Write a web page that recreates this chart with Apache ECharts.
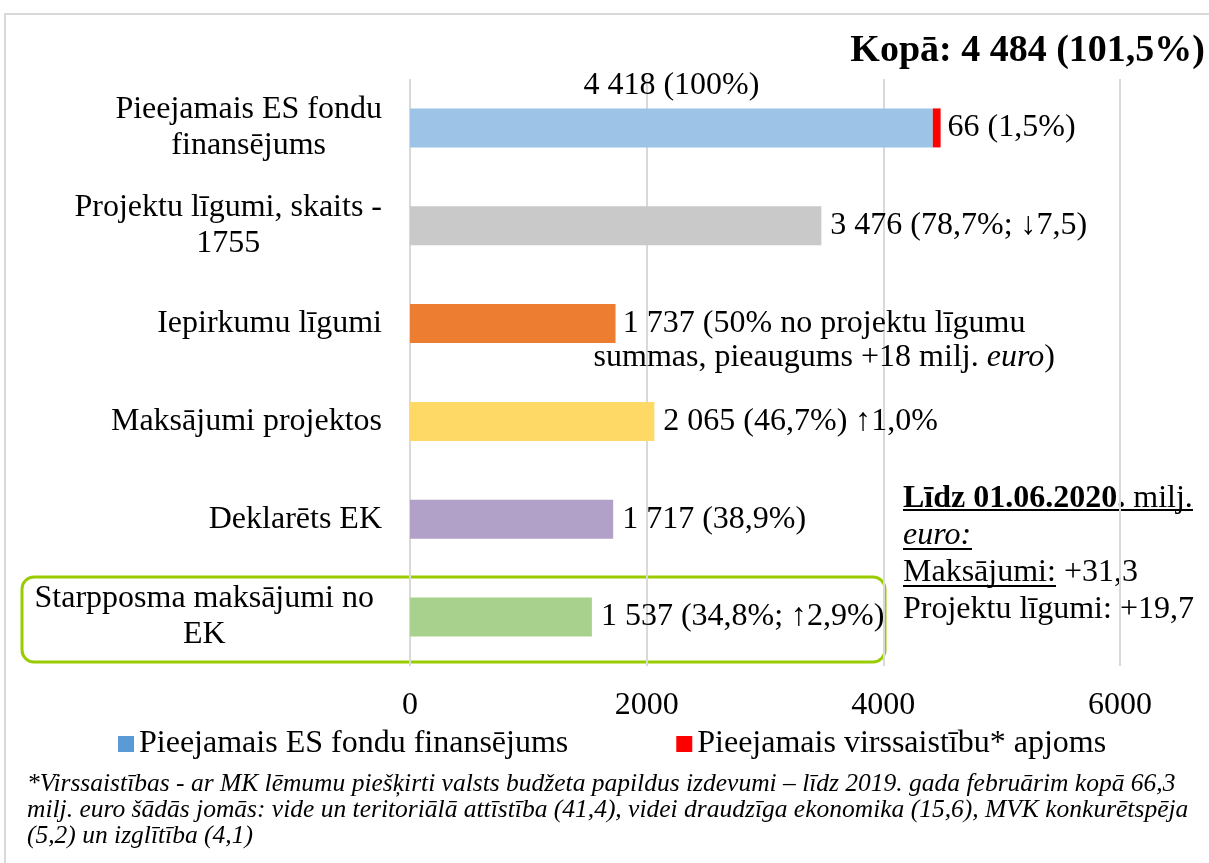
<!DOCTYPE html>
<html>
<head>
<meta charset="utf-8">
<script src="https://cdn.jsdelivr.net/npm/echarts@6/dist/echarts.min.js"></script>
<style>
  html, body { margin: 0; padding: 0; background: #fff; }
  #main { width: 1209px; height: 863px; }
</style>
</head>
<body>
<div id="main"></div>
<script>
// categories, top to bottom
const categories = [
  'Pieejamais ES fondu\nfinansējums',
  'Projektu līgumi, skaits -\n1755',
  'Iepirkumu līgumi',
  'Maksājumi projektos',
  'Deklarēts EK',
  'Starpposma maksājumi no\u00a0\nEK\u00a0'
]
const mainValues = [4418, 3476, 1737, 2065, 1717, 1537]
const extraValues = [66, '-', '-', '-', '-', '-']
const barColors = ['#9DC3E6', '#C9C9C9', '#ED7D31', '#FFD966', '#B1A0C7', '#A9D18E']
const mainLabels = [
  '4 418 (100%)',
  '3 476 (78,7%; ↓7,5)',
  '{n|1 737 (50% no projektu līgumu}\n{n|summas, pieaugums +18 milj. }{i|euro}{n|)}',
  '2 065 (46,7%) ↑1,0%',
  '1 717 (38,9%)',
  '1 537 (34,8%; ↑2,9%)'
]
const extraLabel = '66 (1,5%)'
const xTicks = { min: 0, max: 6000, interval: 2000 }

const FONT = '"Liberation Serif", "Times New Roman", serif'

let chart = echarts.init(document.getElementById('main'))

let mainData = mainValues.map((v, i) => {
  let item = {
    value: v,
    itemStyle: { color: barColors[i] },
    label: { formatter: mainLabels[i] }
  }
  if (i === 0) {
    item.label.position = 'top'
    item.label.distance = 6
  }
  if (i === 2) {
    item.label.offset = [-31, 17]
  }
  return item
})

let option = {
  animation: false,
  textStyle: { fontFamily: FONT },
  grid: { left: 410, right: 89, top: 79, bottom: 197 },
  xAxis: {
    type: 'value',
    min: xTicks.min,
    max: xTicks.max,
    interval: xTicks.interval,
    axisLine: { show: false },
    axisTick: { show: false },
    splitLine: { lineStyle: { color: '#d9d9d9', width: 2 } },
    axisLabel: {
      color: '#000', fontSize: 32, fontFamily: FONT, margin: 24,
      formatter: v => String(v)
    }
  },
  yAxis: {
    type: 'category',
    inverse: true,
    data: categories,
    axisLine: { show: false },
    axisTick: { show: false },
    axisLabel: {
      margin: 28,
      align: 'right',
      formatter: v => v.split('\n').map(l => '{c|' + l + '}').join('\n'),
      rich: {
        c: { align: 'center', fontSize: 32, lineHeight: 36, fontFamily: FONT, color: '#000' }
      }
    }
  },
  legend: {
    left: 113,
    top: 723,
    itemWidth: 16,
    itemHeight: 16,
    itemGap: 108,
    icon: 'rect',
    textStyle: { fontSize: 32, fontFamily: FONT, color: '#000' },
    data: ['Pieejamais ES fondu finansējums', 'Pieejamais virssaistību* apjoms']
  },
  series: [
    {
      name: 'Pieejamais ES fondu finansējums',
      type: 'bar',
      stack: 'total',
      barWidth: 39,
      itemStyle: { color: '#5B9BD5' },
      label: {
        show: true,
        position: 'right',
        distance: 9,
        color: '#000',
        fontSize: 32,
        lineHeight: 34,
        fontFamily: FONT,
        rich: {
          n: { align: 'center', fontSize: 32, lineHeight: 34, fontFamily: FONT, color: '#000' },
          i: { align: 'center', fontStyle: 'italic', fontSize: 32, lineHeight: 34, fontFamily: FONT, color: '#000' }
        }
      },
      data: mainData
    },
    {
      name: 'Pieejamais virssaistību* apjoms',
      type: 'bar',
      stack: 'total',
      barWidth: 39,
      itemStyle: { color: '#FF0000' },
      label: {
        show: true,
        position: 'right',
        distance: 7,
        color: '#000',
        fontSize: 32,
        fontFamily: FONT,
        formatter: extraLabel
      },
      data: extraValues
    }
  ],
  graphic: [
    {
      type: 'rect',
      silent: true,
      shape: { x: 5, y: 14, width: 1230, height: 900 },
      style: { fill: 'none', stroke: '#d9d9d9', lineWidth: 2 }
    },
    {
      type: 'rect',
      silent: true,
      shape: { x: 22, y: 577, width: 863, height: 85, r: 12 },
      style: { fill: 'none', stroke: '#99CC00', lineWidth: 3 }
    },
    {
      type: 'text',
      right: 4,
      top: 32,
      style: { text: 'Kopā: 4 484 (101,5%)', font: 'bold 38px ' + FONT, fill: '#000' }
    },
    {
      type: 'text',
      left: 903,
      top: 480,
      style: {
        text: '{b|Līdz 01.06.2020.} milj.\n{i|euro:}\nMaksājumi: +31,3\nProjektu līgumi: +19,7',
        font: '32px ' + FONT,
        lineHeight: 37,
        fill: '#000',
        rich: {
          b: { fontWeight: 'bold', fontSize: 32, fontFamily: FONT, lineHeight: 37 },
          i: { fontStyle: 'italic', fontSize: 32, fontFamily: FONT, lineHeight: 37 }
        }
      }
    },
    { type: 'line', silent: true, shape: { x1: 903, y1: 510, x2: 1193, y2: 510 }, style: { stroke: '#000', lineWidth: 2 } },
    { type: 'line', silent: true, shape: { x1: 903, y1: 549, x2: 972, y2: 549 }, style: { stroke: '#000', lineWidth: 2 } },
    { type: 'line', silent: true, shape: { x1: 903, y1: 586, x2: 1056, y2: 586 }, style: { stroke: '#000', lineWidth: 2 } },
    {
      type: 'text',
      left: 27,
      top: 771,
      style: {
        text: '*Virssaistības - ar MK lēmumu piešķirti valsts budžeta papildus izdevumi – līdz 2019. gada februārim kopā 66,3\n' +
          'milj. euro šādās jomās: vide un teritoriālā attīstība (41,4), videi draudzīga ekonomika (15,6), MVK konkurētspēja\n' +
          '(5,2) un izglītība (4,1)',
        font: 'italic 25.5px ' + FONT,
        lineHeight: 26,
        fill: '#000'
      }
    }
  ]
}

chart.setOption(option)
</script>
</body>
</html>
